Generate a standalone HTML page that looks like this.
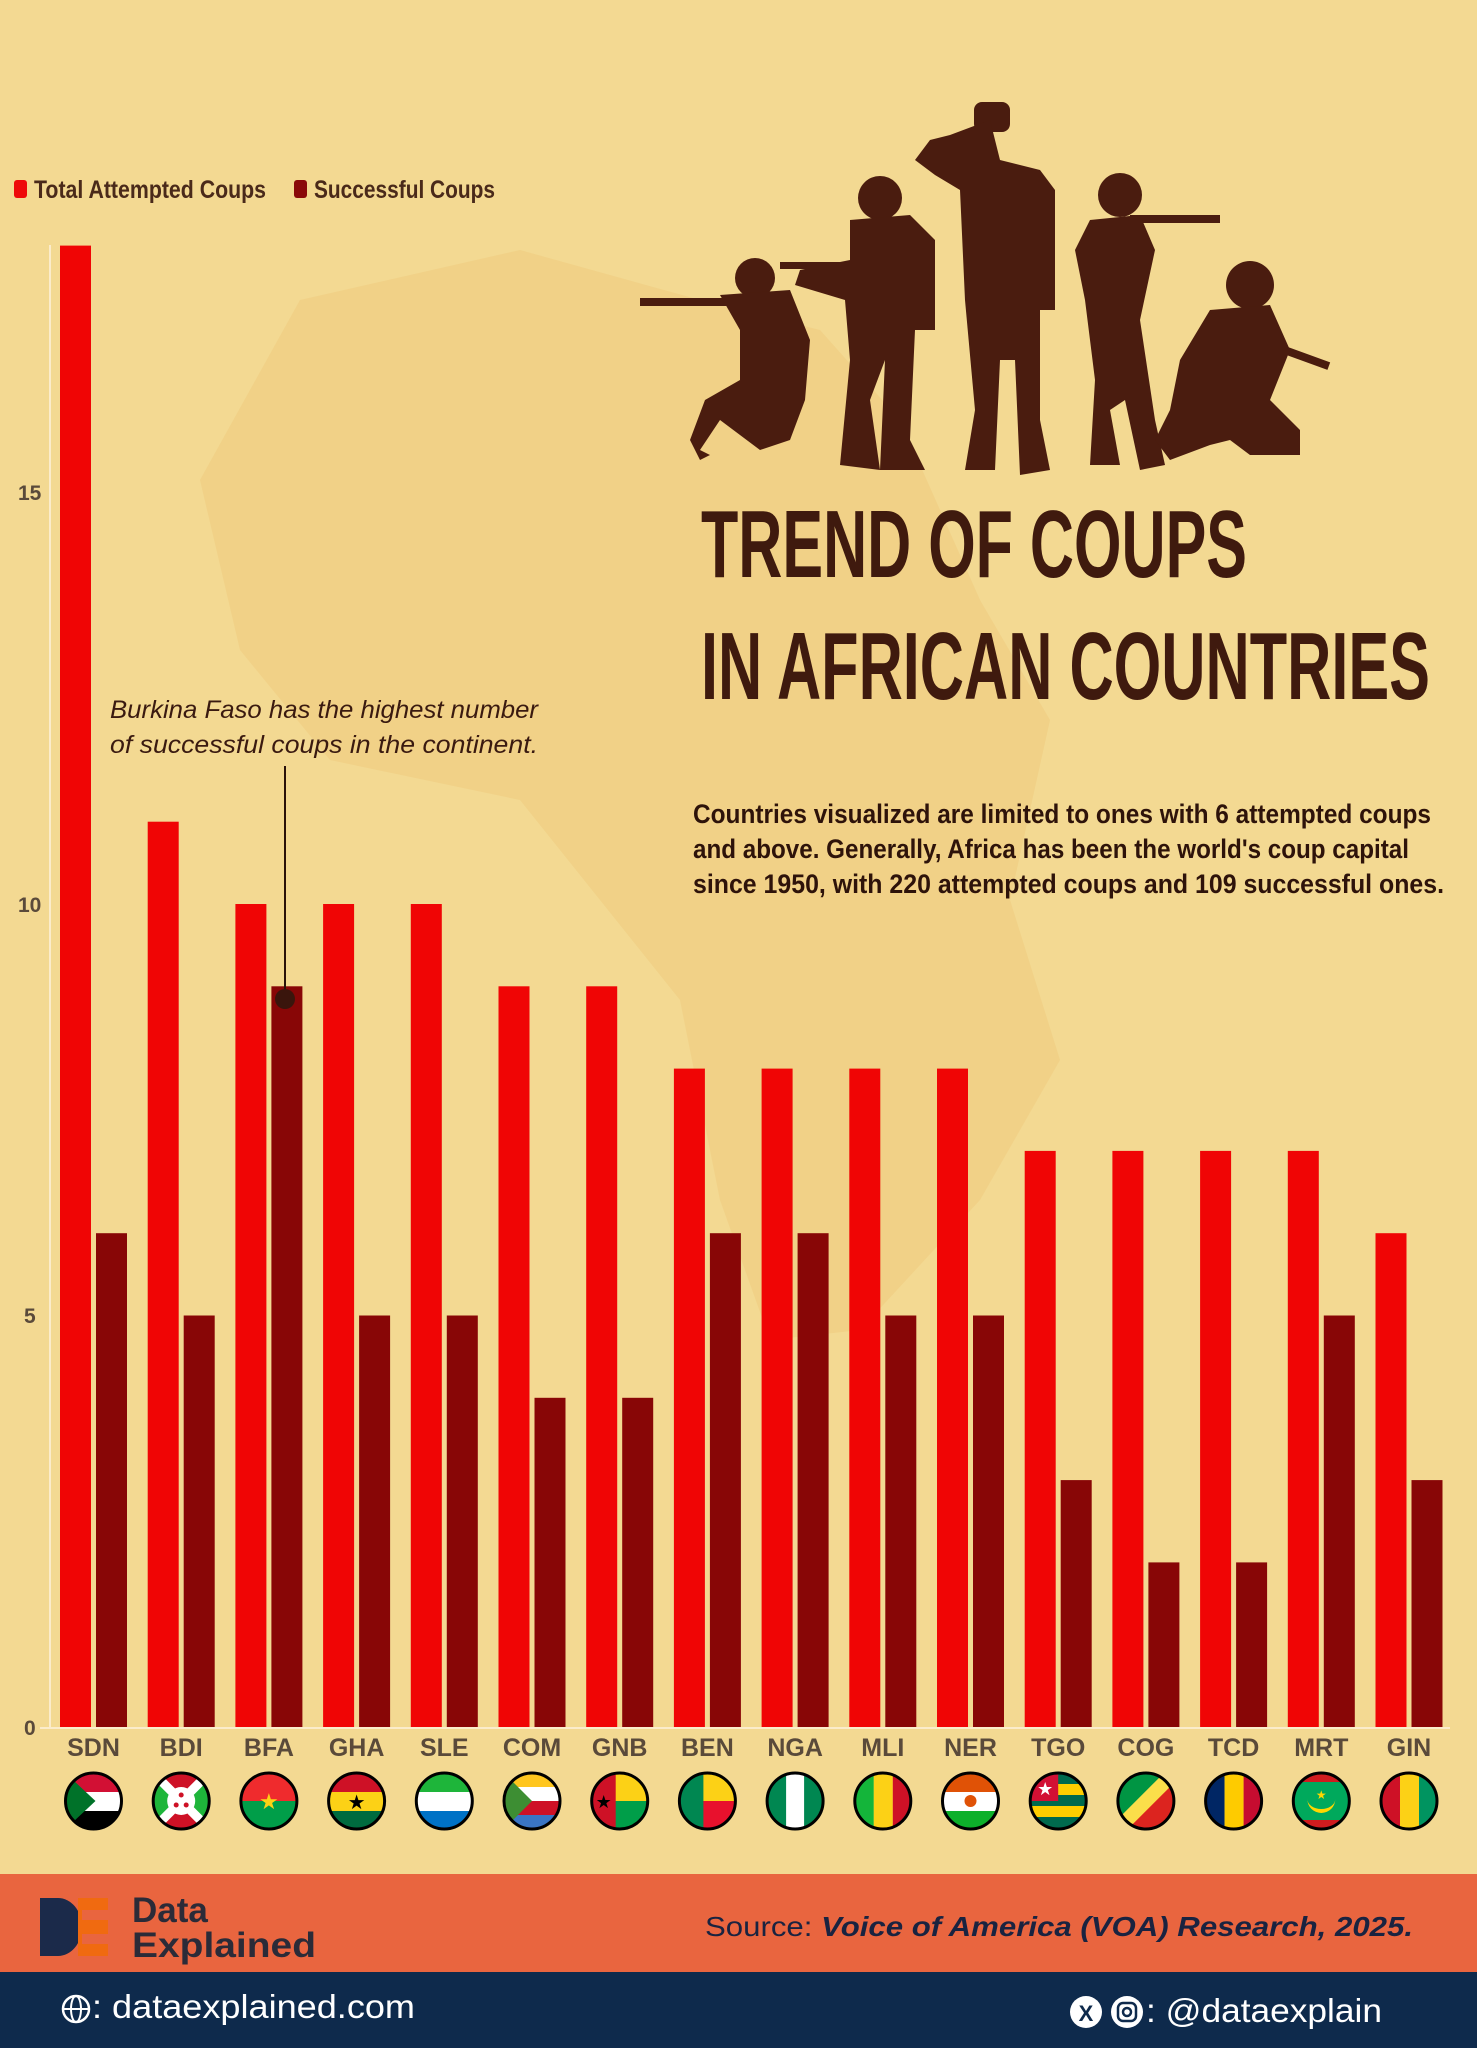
<!DOCTYPE html>
<html><head><meta charset="utf-8"><style>html,body{margin:0;padding:0}svg{display:block}</style></head>
<body>
<svg width="1477" height="2048" viewBox="0 0 1477 2048" xmlns="http://www.w3.org/2000/svg" font-family="Liberation Sans, sans-serif">
<rect width="1477" height="2048" fill="#f3d992"/>
<polygon points="300,300 520,250 700,300 820,330 900,420 980,600 1050,720 1010,900 1060,1060 980,1200 860,1330 770,1340 720,1200 680,1000 600,900 520,800 330,760 240,650 200,480" fill="#edc274" opacity="0.35"/>
<!-- soldiers -->
<g fill="#4a1c0f">
<circle cx="755" cy="278" r="20"/><rect x="640" y="298" width="100" height="8"/><polygon points="720,295 790,290 810,340 805,400 790,440 760,450 720,420 700,450 710,455 700,460 690,440 705,400 740,380 740,330"/>
<circle cx="880" cy="198" r="22"/><polygon points="850,220 910,215 935,240 935,330 915,330 910,440 925,470 880,470 885,360 870,400 880,470 840,465 850,360 845,300 795,285 800,270 850,260"/>
<rect x="780" y="262" width="60" height="7"/>
<rect x="974" y="102" width="36" height="30" rx="8"/><polygon points="950,135 990,120 1000,160 1040,170 1055,190 1055,310 1040,310 1040,420 1050,470 1020,475 1015,360 1000,360 995,470 965,470 975,410 965,300 960,190 935,175 915,160 930,140"/>
<circle cx="1120" cy="195" r="22"/><rect x="1130" y="215" width="90" height="8"/><polygon points="1090,220 1140,215 1155,250 1140,320 1155,420 1165,465 1140,470 1125,400 1110,410 1120,465 1090,465 1095,380 1085,300 1075,250"/>
<circle cx="1250" cy="285" r="24"/><rect x="1255" y="335" width="80" height="8" transform="rotate(20 1255 335)"/><polygon points="1210,310 1270,305 1290,350 1270,400 1300,430 1300,455 1250,455 1230,440 1210,445 1170,460 1155,440 1170,410 1180,360"/>
</g>
<!-- title -->
<g fill="#3f1a0e" font-family="Liberation Sans Narrow, Liberation Sans, sans-serif" font-weight="bold">
<text x="701" y="577" font-size="96" textLength="546" lengthAdjust="spacingAndGlyphs">TREND OF COUPS</text>
<text x="701" y="699" font-size="96" textLength="729" lengthAdjust="spacingAndGlyphs">IN AFRICAN COUNTRIES</text>
</g>
<g fill="#2e130a" font-family="Liberation Sans Narrow, Liberation Sans, sans-serif" font-weight="bold" font-size="27">
<text x="693" y="823" textLength="738" lengthAdjust="spacingAndGlyphs">Countries visualized are limited to ones with 6 attempted coups</text>
<text x="693" y="858" textLength="716" lengthAdjust="spacingAndGlyphs">and above. Generally, Africa has been the world's coup capital</text>
<text x="693" y="893" textLength="751" lengthAdjust="spacingAndGlyphs">since 1950, with 220 attempted coups and 109 successful ones.</text>
</g>
<!-- legend -->
<rect x="14" y="180" width="13" height="18" rx="3" fill="#ee0a0a"/>
<rect x="294" y="180" width="13" height="18" rx="3" fill="#8a0a0a"/>
<g fill="#4a2a1a" font-family="Liberation Sans Narrow, Liberation Sans, sans-serif" font-weight="bold" font-size="25">
<text x="34" y="198" textLength="232" lengthAdjust="spacingAndGlyphs">Total Attempted Coups</text>
<text x="314" y="198" textLength="181" lengthAdjust="spacingAndGlyphs">Successful Coups</text>
</g>
<!-- axis -->
<line x1="50" y1="245" x2="50" y2="1727" stroke="#fbeccb" stroke-width="2"/>
<line x1="40" y1="1728" x2="1450" y2="1728" stroke="#fbeccb" stroke-width="2"/>
<g fill="#5a4a3a" font-weight="bold" font-size="21">
<text x="18" y="500">15</text><text x="18" y="912">10</text><text x="24" y="1323">5</text><text x="24" y="1735">0</text>
</g>
<!-- bars -->
<g fill="#f00505">
<rect x="60" y="245.6" width="31" height="1481.4"/>
<rect x="147.7" y="821.7" width="31" height="905.3"/>
<rect x="235.4" y="904" width="31" height="823"/>
<rect x="323.1" y="904" width="31" height="823"/>
<rect x="410.8" y="904" width="31" height="823"/>
<rect x="498.5" y="986.3" width="31" height="740.7"/>
<rect x="586.2" y="986.3" width="31" height="740.7"/>
<rect x="673.9" y="1068.6" width="31" height="658.4"/>
<rect x="761.6" y="1068.6" width="31" height="658.4"/>
<rect x="849.3" y="1068.6" width="31" height="658.4"/>
<rect x="937" y="1068.6" width="31" height="658.4"/>
<rect x="1024.7" y="1150.9" width="31" height="576.1"/>
<rect x="1112.4" y="1150.9" width="31" height="576.1"/>
<rect x="1200.1" y="1150.9" width="31" height="576.1"/>
<rect x="1287.8" y="1150.9" width="31" height="576.1"/>
<rect x="1375.5" y="1233.2" width="31" height="493.8"/>
</g>
<g fill="#880606">
<rect x="96" y="1233.2" width="31" height="493.8"/>
<rect x="183.7" y="1315.5" width="31" height="411.5"/>
<rect x="271.4" y="986.3" width="31" height="740.7"/>
<rect x="359.1" y="1315.5" width="31" height="411.5"/>
<rect x="446.8" y="1315.5" width="31" height="411.5"/>
<rect x="534.5" y="1397.8" width="31" height="329.2"/>
<rect x="622.2" y="1397.8" width="31" height="329.2"/>
<rect x="709.9" y="1233.2" width="31" height="493.8"/>
<rect x="797.6" y="1233.2" width="31" height="493.8"/>
<rect x="885.3" y="1315.5" width="31" height="411.5"/>
<rect x="973" y="1315.5" width="31" height="411.5"/>
<rect x="1060.7" y="1480.1" width="31" height="246.9"/>
<rect x="1148.4" y="1562.4" width="31" height="164.6"/>
<rect x="1236.1" y="1562.4" width="31" height="164.6"/>
<rect x="1323.8" y="1315.5" width="31" height="411.5"/>
<rect x="1411.5" y="1480.1" width="31" height="246.9"/>
</g>
<!-- annotation -->
<g fill="#3a1a10" font-style="italic" font-size="25">
<text x="110" y="718" textLength="428" lengthAdjust="spacingAndGlyphs">Burkina Faso has the highest number</text>
<text x="110" y="753" textLength="428" lengthAdjust="spacingAndGlyphs">of successful coups in the continent.</text>
</g>
<line x1="285" y1="766" x2="285" y2="999" stroke="#2a120a" stroke-width="2"/>
<circle cx="285" cy="999" r="10" fill="#3a150c"/>
<!-- labels -->
<g fill="#5a4a3a" font-family="Liberation Sans Narrow, Liberation Sans, sans-serif" font-weight="bold" font-size="25" text-anchor="middle">
<text x="93.5" y="1756">SDN</text><text x="181.2" y="1756">BDI</text><text x="268.9" y="1756">BFA</text><text x="356.6" y="1756">GHA</text><text x="444.3" y="1756">SLE</text><text x="532" y="1756">COM</text><text x="619.7" y="1756">GNB</text><text x="707.4" y="1756">BEN</text><text x="795.1" y="1756">NGA</text><text x="882.8" y="1756">MLI</text><text x="970.5" y="1756">NER</text><text x="1058.2" y="1756">TGO</text><text x="1145.9" y="1756">COG</text><text x="1233.6" y="1756">TCD</text><text x="1321.3" y="1756">MRT</text><text x="1409" y="1756">GIN</text>
</g>
<defs><clipPath id="c"><circle r="28"/></clipPath></defs>
<!-- flags -->
<g transform="translate(93.5,1801)"><g clip-path="url(#c)"><rect x="-28" y="-28" width="56" height="19" fill="#d21034"/><rect x="-28" y="-9" width="56" height="19" fill="#fff"/><rect x="-28" y="10" width="56" height="18" fill="#000"/><polygon points="-28,-28 2,0 -28,28" fill="#007229"/></g><circle r="28" fill="none" stroke="#000" stroke-width="3"/></g>
<g transform="translate(181.2,1801)"><g clip-path="url(#c)"><rect x="-28" y="-28" width="56" height="56" fill="#ce1126"/><polygon points="-28,-28 0,0 -28,28" fill="#1eb53a"/><polygon points="28,-28 0,0 28,28" fill="#1eb53a"/><path d="M-28,-28L28,28M28,-28L-28,28" stroke="#fff" stroke-width="9"/><circle r="14" fill="#fff"/><circle cx="0" cy="-6" r="2.5" fill="#ce1126"/><circle cx="-5" cy="4" r="2.5" fill="#ce1126"/><circle cx="5" cy="4" r="2.5" fill="#ce1126"/></g><circle r="28" fill="none" stroke="#000" stroke-width="3"/></g>
<g transform="translate(268.9,1801)"><g clip-path="url(#c)"><rect x="-28" y="-28" width="56" height="28" fill="#ef2b2d"/><rect x="-28" y="0" width="56" height="28" fill="#009e49"/><text y="8" font-size="22" text-anchor="middle" fill="#fcd116">★</text></g><circle r="28" fill="none" stroke="#000" stroke-width="3"/></g>
<g transform="translate(356.6,1801)"><g clip-path="url(#c)"><rect x="-28" y="-28" width="56" height="19" fill="#ce1126"/><rect x="-28" y="-9" width="56" height="19" fill="#fcd116"/><rect x="-28" y="10" width="56" height="18" fill="#006b3f"/><text y="8" font-size="20" text-anchor="middle" fill="#000">★</text></g><circle r="28" fill="none" stroke="#000" stroke-width="3"/></g>
<g transform="translate(444.3,1801)"><g clip-path="url(#c)"><rect x="-28" y="-28" width="56" height="19" fill="#1eb53a"/><rect x="-28" y="-9" width="56" height="19" fill="#fff"/><rect x="-28" y="10" width="56" height="18" fill="#0072c6"/></g><circle r="28" fill="none" stroke="#000" stroke-width="3"/></g>
<g transform="translate(532,1801)"><g clip-path="url(#c)"><rect x="-28" y="-28" width="56" height="14" fill="#ffc61e"/><rect x="-28" y="-14" width="56" height="14" fill="#fff"/><rect x="-28" y="0" width="56" height="14" fill="#ce1126"/><rect x="-28" y="14" width="56" height="14" fill="#3a75c4"/><polygon points="-28,-28 0,0 -28,28" fill="#3d8e33"/></g><circle r="28" fill="none" stroke="#000" stroke-width="3"/></g>
<g transform="translate(619.7,1801)"><g clip-path="url(#c)"><rect x="-28" y="-28" width="56" height="28" fill="#fcd116"/><rect x="-28" y="0" width="56" height="28" fill="#009e49"/><rect x="-28" y="-28" width="24" height="56" fill="#ce1126"/><text x="-16" y="7" font-size="18" text-anchor="middle" fill="#000">★</text></g><circle r="28" fill="none" stroke="#000" stroke-width="3"/></g>
<g transform="translate(707.4,1801)"><g clip-path="url(#c)"><rect x="-28" y="-28" width="56" height="28" fill="#fcd116"/><rect x="-28" y="0" width="56" height="28" fill="#e8112d"/><rect x="-28" y="-28" width="24" height="56" fill="#008751"/></g><circle r="28" fill="none" stroke="#000" stroke-width="3"/></g>
<g transform="translate(795.1,1801)"><g clip-path="url(#c)"><rect x="-28" y="-28" width="56" height="56" fill="#fff"/><rect x="-28" y="-28" width="19" height="56" fill="#008751"/><rect x="9" y="-28" width="19" height="56" fill="#008751"/></g><circle r="28" fill="none" stroke="#000" stroke-width="3"/></g>
<g transform="translate(882.8,1801)"><g clip-path="url(#c)"><rect x="-28" y="-28" width="19" height="56" fill="#14b53a"/><rect x="-9" y="-28" width="19" height="56" fill="#fcd116"/><rect x="10" y="-28" width="18" height="56" fill="#ce1126"/></g><circle r="28" fill="none" stroke="#000" stroke-width="3"/></g>
<g transform="translate(970.5,1801)"><g clip-path="url(#c)"><rect x="-28" y="-28" width="56" height="19" fill="#e05206"/><rect x="-28" y="-9" width="56" height="19" fill="#fff"/><rect x="-28" y="10" width="56" height="18" fill="#0db02b"/><circle r="6" fill="#e05206"/></g><circle r="28" fill="none" stroke="#000" stroke-width="3"/></g>
<g transform="translate(1058.2,1801)"><g clip-path="url(#c)"><rect x="-28" y="-28" width="56" height="56" fill="#006a4e"/><rect x="-28" y="-17" width="56" height="11" fill="#ffce00"/><rect x="-28" y="5" width="56" height="11" fill="#ffce00"/><rect x="-28" y="-28" width="28" height="28" fill="#d21034"/><text x="-13" y="-6" font-size="18" text-anchor="middle" fill="#fff">★</text></g><circle r="28" fill="none" stroke="#000" stroke-width="3"/></g>
<g transform="translate(1145.9,1801)"><g clip-path="url(#c)"><rect x="-28" y="-28" width="56" height="56" fill="#fbde4a"/><polygon points="-28,-28 18,-28 -28,18" fill="#009543"/><polygon points="28,28 -18,28 28,-18" fill="#dc241f"/></g><circle r="28" fill="none" stroke="#000" stroke-width="3"/></g>
<g transform="translate(1233.6,1801)"><g clip-path="url(#c)"><rect x="-28" y="-28" width="19" height="56" fill="#002664"/><rect x="-9" y="-28" width="19" height="56" fill="#fecb00"/><rect x="10" y="-28" width="18" height="56" fill="#c60c30"/></g><circle r="28" fill="none" stroke="#000" stroke-width="3"/></g>
<g transform="translate(1321.3,1801)"><g clip-path="url(#c)"><rect x="-28" y="-28" width="56" height="56" fill="#00a95c"/><rect x="-28" y="-28" width="56" height="9" fill="#d01c1f"/><rect x="-28" y="19" width="56" height="9" fill="#d01c1f"/><path d="M-14,-2 A14,14 0 0 0 14,-2 A14,10 0 0 1 -14,-2Z" fill="#ffd700"/><text y="-2" font-size="12" text-anchor="middle" fill="#ffd700">★</text></g><circle r="28" fill="none" stroke="#000" stroke-width="3"/></g>
<g transform="translate(1409,1801)"><g clip-path="url(#c)"><rect x="-28" y="-28" width="19" height="56" fill="#ce1126"/><rect x="-9" y="-28" width="19" height="56" fill="#fcd116"/><rect x="10" y="-28" width="18" height="56" fill="#009460"/></g><circle r="28" fill="none" stroke="#000" stroke-width="3"/></g>
<!-- footer -->
<rect x="0" y="1874" width="1477" height="98" fill="#e9653f"/>
<rect x="0" y="1972" width="1477" height="76" fill="#0e2a4c"/>
<path d="M40,1898 h18 a24,29 0 0 1 0,58 h-18z" fill="#1b2a4a"/>
<rect x="78" y="1898" width="30" height="58" fill="#f06a10"/><rect x="82" y="1910" width="26" height="10" fill="#e9653f"/><rect x="82" y="1934" width="26" height="10" fill="#e9653f"/>
<g fill="#2b2b38" font-weight="bold" font-size="35"><text x="132" y="1922">Data</text><text x="132" y="1957" textLength="184" lengthAdjust="spacingAndGlyphs">Explained</text></g>
<text x="705" y="1936" font-size="28" fill="#1a2340" textLength="708" lengthAdjust="spacingAndGlyphs">Source: <tspan font-weight="bold" font-style="italic">Voice of America (VOA) Research, 2025.</tspan></text>
<circle cx="76" cy="2009" r="13" fill="none" stroke="#fff" stroke-width="2.5"/><ellipse cx="76" cy="2009" rx="5" ry="13" fill="none" stroke="#fff" stroke-width="2"/><line x1="63" y1="2009" x2="89" y2="2009" stroke="#fff" stroke-width="2"/>
<text x="92" y="2018" font-size="33" fill="#fff" textLength="323" lengthAdjust="spacingAndGlyphs">: dataexplained.com</text>
<circle cx="1086" cy="2012" r="16" fill="#fff"/><text x="1086" y="2021" font-size="22" text-anchor="middle" font-weight="bold" fill="#0e2a4c">X</text>
<circle cx="1127" cy="2012" r="16" fill="#fff"/><rect x="1118" y="2003" width="18" height="18" rx="5" fill="none" stroke="#0e2a4c" stroke-width="2.5"/><circle cx="1127" cy="2012" r="4" fill="none" stroke="#0e2a4c" stroke-width="2.5"/>
<text x="1146" y="2022" font-size="33" fill="#fff" textLength="236" lengthAdjust="spacingAndGlyphs">: @dataexplain</text>
</svg>
</body></html>
